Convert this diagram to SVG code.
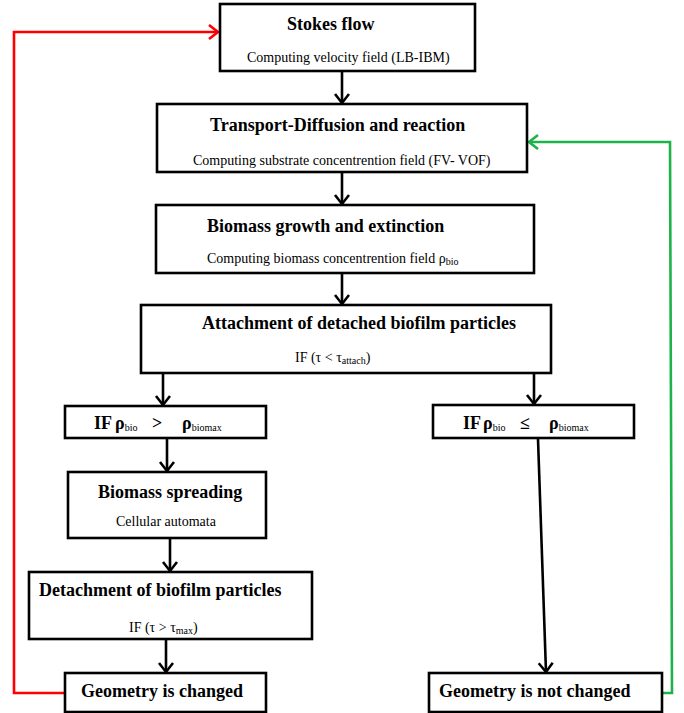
<svg xmlns="http://www.w3.org/2000/svg" width="684" height="713" viewBox="0 0 684 713">
<style>
.box{fill:#fff;stroke:#000;stroke-width:2.6}
text{font-family:'Liberation Serif','DejaVu Serif',serif;fill:#000}
.t{font-weight:bold;font-size:18px}
.s{font-size:14px}
.sub{font-size:10px;font-weight:normal}
.c{stroke:#000;stroke-width:2.6;fill:none}
.red{stroke:#ff0000;stroke-width:2.6;fill:none}
.green{stroke:#1db34a;stroke-width:2.6;fill:none}
</style>
<defs>
<marker id="ab" markerUnits="userSpaceOnUse" markerWidth="20" markerHeight="20" refX="11" refY="8" orient="auto" viewBox="0 0 20 20">
<path d="M2,1 L11,8 L2,15" fill="none" stroke="#000" stroke-width="2.6"/>
</marker>
<marker id="ar" markerUnits="userSpaceOnUse" markerWidth="20" markerHeight="20" refX="11" refY="8" orient="auto" viewBox="0 0 20 20">
<path d="M2,1 L11,8 L2,15" fill="none" stroke="#ff0000" stroke-width="2.6"/>
</marker>
<marker id="ag" markerUnits="userSpaceOnUse" markerWidth="20" markerHeight="20" refX="11" refY="8" orient="auto" viewBox="0 0 20 20">
<path d="M2,1 L11,8 L2,15" fill="none" stroke="#1db34a" stroke-width="2.6"/>
</marker>
</defs>
<rect width="684" height="713" fill="#fff"/>
<g id="connectors">
<line class="c" x1="342" y1="72" x2="342" y2="103" marker-end="url(#ab)"/>
<line class="c" x1="342" y1="173" x2="342" y2="204" marker-end="url(#ab)"/>
<line class="c" x1="342" y1="274" x2="342" y2="304" marker-end="url(#ab)"/>
<line class="c" x1="163" y1="374" x2="163" y2="405" marker-end="url(#ab)"/>
<line class="c" x1="534" y1="374" x2="534" y2="404" marker-end="url(#ab)"/>
<line class="c" x1="167" y1="439" x2="167" y2="471" marker-end="url(#ab)"/>
<line class="c" x1="170" y1="539" x2="170" y2="571" marker-end="url(#ab)"/>
<line class="c" x1="166" y1="640" x2="166" y2="672" marker-end="url(#ab)"/>
<line class="c" x1="538" y1="439" x2="546" y2="672" marker-end="url(#ab)"/>
<polyline class="red" points="65,693 14,693 14,32 218,32" marker-end="url(#ar)"/>
<polyline class="green" points="662,693 672,693 670,142 529,142" marker-end="url(#ag)"/>
</g>
<g id="stokes">
<rect class="box" x="220" y="4" width="255" height="67"/>
<text class="t" x="287" y="30" font-family="Liberation Serif, serif">Stokes flow</text>
<text class="s" x="247" y="62" font-family="Liberation Serif, serif">Computing velocity field (LB-IBM)</text>
</g>
<g id="transport">
<rect class="box" x="157" y="104" width="370" height="68"/>
<text class="t" x="210" y="131">Transport-Diffusion and reaction</text>
<text class="s" x="193" y="165">Computing substrate concentrention field (FV- VOF)</text>
</g>
<g id="growth">
<rect class="box" x="156" y="205" width="378" height="68"/>
<text class="t" x="207" y="232">Biomass growth and extinction</text>
<text class="s" x="207" y="263">Computing biomass concentrention field ρ<tspan class="sub" dy="2">bio</tspan></text>
</g>
<g id="attachment">
<rect class="box" x="141" y="305" width="410" height="68"/>
<text class="t" x="202" y="329">Attachment of detached biofilm particles</text>
<text class="s" x="295" y="362">IF (τ &lt; τ<tspan class="sub" dy="2">attach</tspan><tspan dy="-2">)</tspan></text>
</g>
<g id="if-greater">
<rect class="box" x="65" y="406" width="201" height="32"/>
<text class="t" x="94" y="429">IF<tspan x="115">ρ</tspan><tspan class="sub" dy="2">bio</tspan><tspan x="152" dy="-2">&gt;</tspan><tspan x="182">ρ</tspan><tspan class="sub" dy="2">biomax</tspan></text>
</g>
<g id="if-leq">
<rect class="box" x="433" y="405" width="201" height="33"/>
<text class="t" x="463" y="429">IF<tspan x="483">ρ</tspan><tspan class="sub" dy="2">bio</tspan><tspan x="520" dy="-2">≤</tspan><tspan x="549">ρ</tspan><tspan class="sub" dy="2">biomax</tspan></text>
</g>
<g id="spreading">
<rect class="box" x="68" y="472" width="198" height="66"/>
<text class="t" x="98" y="498">Biomass spreading</text>
<text class="s" x="116" y="526">Cellular automata</text>
</g>
<g id="detachment">
<rect class="box" x="29" y="572" width="283" height="67"/>
<text class="t" x="39" y="596">Detachment of biofilm particles</text>
<text class="s" x="129" y="632">IF (τ &gt; τ<tspan class="sub" dy="2">max</tspan><tspan dy="-2">)</tspan></text>
</g>
<g id="changed">
<rect class="box" x="65" y="673" width="201" height="39"/>
<text class="t" x="81" y="697">Geometry is changed</text>
</g>
<g id="not-changed">
<rect class="box" x="429" y="673" width="233" height="39"/>
<text class="t" x="439" y="697">Geometry is not changed</text>
</g>
</svg>
